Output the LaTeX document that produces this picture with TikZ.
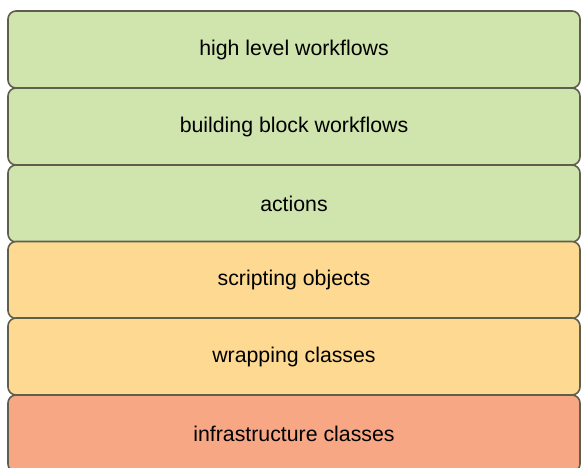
\documentclass[tikz,border=0pt]{standalone}
\usepackage{fontspec}
\setmainfont{Liberation Sans}
\definecolor{layergreen}{HTML}{D0E4AE}
\definecolor{layeryellow}{HTML}{FDD992}
\definecolor{layerred}{HTML}{F8A785}
\definecolor{layerline}{HTML}{5F5E4C}
\begin{document}
\begin{tikzpicture}[x=1pt,y=-1pt,
  layer/.style={draw=layerline, line width=1.6pt, rounded corners=8pt,
    minimum width=572pt, minimum height=77pt, inner sep=0pt,
    font=\fontsize{21.3}{23}\selectfont}]
\useasboundingbox (0,0) rectangle (582,467);
\node[layer,fill=layergreen] (hlw) at (294,49.5) {high level workflows};
\node[layer,fill=layergreen] (bbw) at (294,126.5) {building block workflows};
\node[layer,fill=layergreen] (act) at (294,203.5) {actions};
\node[layer,fill=layeryellow] (scr) at (294,280) {scripting objects};
\node[layer,fill=layeryellow] (wrp) at (294,356.5) {wrapping classes};
\node[layer,fill=layerred] (inf) at (294,433.5) {infrastructure classes};
\end{tikzpicture}
\end{document}
